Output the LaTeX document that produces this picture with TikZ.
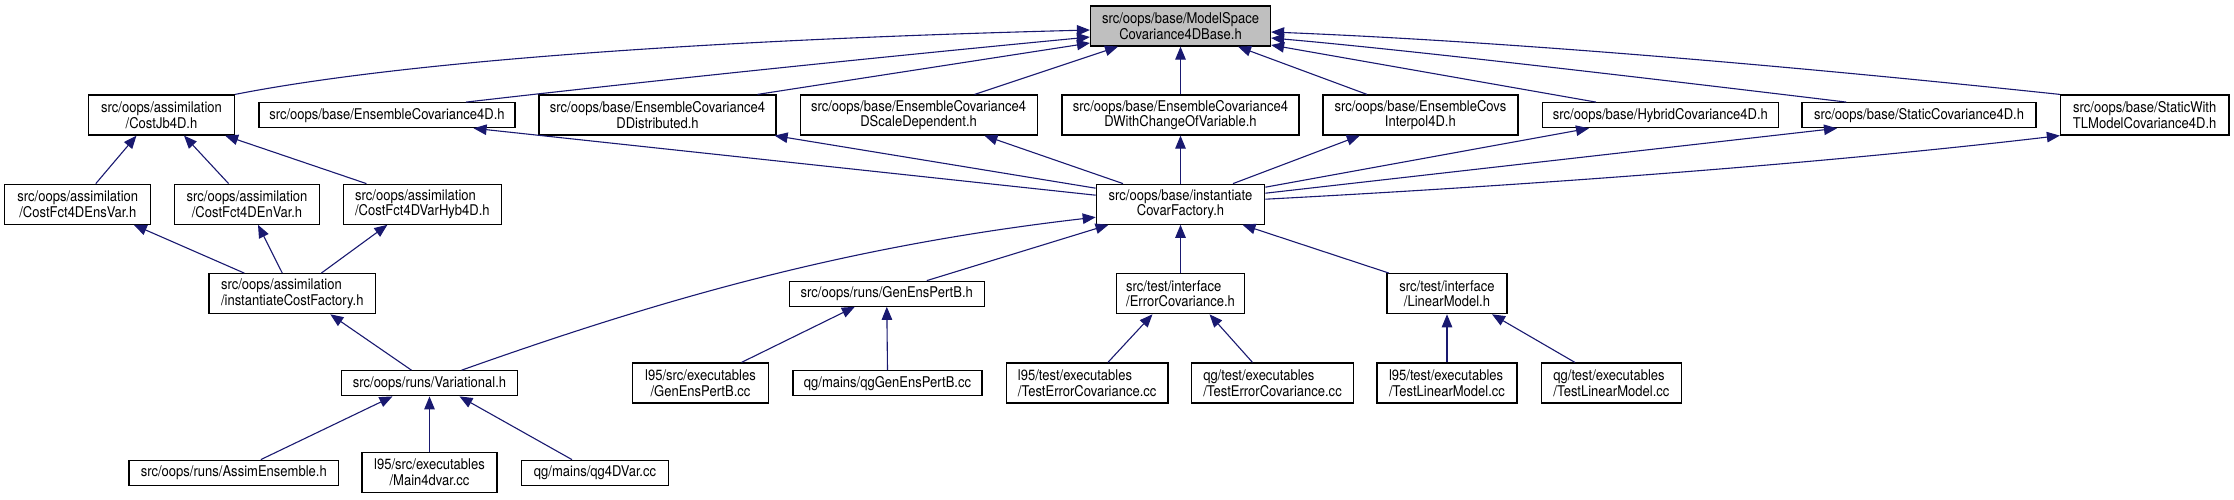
\documentclass[tikz,border=0pt]{standalone}
\usepackage{fontspec}
\setmainfont{TeX Gyre Heros}[FakeStretch=0.88]
\usepackage{xcolor}
\definecolor{colEdge}{HTML}{191970}
\definecolor{colRoot}{HTML}{BFBFBF}
\usepackage{tikz}
\usetikzlibrary{arrows.meta}

\begin{document}
\begin{tikzpicture}[x=1pt, y=-1pt,
    filebox/.style={draw=black, line width=1.2pt, fill=white, inner sep=0pt,
      align=center, font=\fontsize{14.8}{15.6}\selectfont},
    onel/.style={minimum height=25},
    twol/.style={minimum height=40},
    edge/.style={colEdge, line width=1.1pt, -{Triangle[length=13pt, width=10.5pt]}}]
    \useasboundingbox (0,0) rectangle (2234,499);

    % === Root header ===
    \node[filebox, twol, fill=colRoot, minimum width=180] (ms) at (1180.5,26) {src/oops/base/ModelSpace\\Covariance4DBase.h};

    % === Row 2: direct includers ===
    \node[filebox, twol, minimum width=146]   (jb)     at (161.5,115)  {src/oops/assimilation\\/CostJb4D.h};
    \node[filebox, onel, minimum width=256]   (ens)    at (387,115.2)  {src/oops/base/EnsembleCovariance4D.h};
    \node[filebox, twol, minimum width=237]   (dist)   at (657.5,115)  {src/oops/base/EnsembleCovariance4\\DDistributed.h};
    \node[filebox, twol, minimum width=237]   (scale)  at (918.6,115)  {src/oops/base/EnsembleCovariance4\\DScaleDependent.h};
    \node[filebox, twol, minimum width=237]   (chg)    at (1180.5,115) {src/oops/base/EnsembleCovariance4\\DWithChangeOfVariable.h};
    \node[filebox, twol, minimum width=195]   (interp) at (1420.4,115) {src/oops/base/EnsembleCovs\\Interpol4D.h};
    \node[filebox, onel, minimum width=236.5] (hyb)    at (1660.4,115.2) {src/oops/base/HybridCovariance4D.h};
    \node[filebox, onel, minimum width=234]   (stat)   at (1919,115.2) {src/oops/base/StaticCovariance4D.h};
    \node[filebox, twol, minimum width=168.5] (stl)    at (2144.7,115) {src/oops/base/StaticWith\\TLModelCovariance4D.h};

    % === Row 3 ===
    \node[filebox, twol, minimum width=146]   (ensvar) at (77.8,204.2)  {src/oops/assimilation\\/CostFct4DEnsVar.h};
    \node[filebox, twol, minimum width=145]   (envar)  at (247,204.2)   {src/oops/assimilation\\/CostFct4DEnVar.h};
    \node[filebox, twol, minimum width=158, align=left] (hyb4d) at (422.4,204.2) {src/oops/assimilation\\/CostFct4DVarHyb4D.h};
    \node[filebox, twol, minimum width=168.4] (cf)     at (1180.5,204.2) {src/oops/base/instantiate\\CovarFactory.h};

    % === Row 4 ===
    \node[filebox, twol, minimum width=166.5, align=left] (costfac) at (292.3,293.7) {src/oops/assimilation\\/instantiateCostFactory.h};
    \node[filebox, onel, minimum width=195]   (genb)   at (886.8,293.7) {src/oops/runs/GenEnsPertB.h};
    \node[filebox, twol, minimum width=128, align=left] (errcov) at (1180.5,293.7) {src/test/interface\\/ErrorCovariance.h};
    \node[filebox, twol, minimum width=120]   (linmod) at (1447,293.7)  {src/test/interface\\/LinearModel.h};

    % === Row 5 ===
    \node[filebox, onel, minimum width=176]   (var)     at (429.5,383.3) {src/oops/runs/Variational.h};
    \node[filebox, twol, minimum width=135.4] (l95genb) at (700.5,383)   {l95/src/executables\\/GenEnsPertB.cc};
    \node[filebox, onel, minimum width=189]   (qggenb)  at (887.5,383.3) {qg/mains/qgGenEnsPertB.cc};
    \node[filebox, twol, minimum width=161.6, align=left] (l95terr) at (1087.2,383) {l95/test/executables\\/TestErrorCovariance.cc};
    \node[filebox, twol, minimum width=162, align=left]   (qgterr)  at (1272.5,383) {qg/test/executables\\/TestErrorCovariance.cc};
    \node[filebox, twol, minimum width=140, align=left]   (l95tlin) at (1447,383)   {l95/test/executables\\/TestLinearModel.cc};
    \node[filebox, twol, minimum width=140, align=left]   (qgtlin)  at (1611.4,383) {qg/test/executables\\/TestLinearModel.cc};

    % === Row 6 ===
    \node[filebox, onel, minimum width=209.5] (assim) at (233.8,472.7) {src/oops/runs/AssimEnsemble.h};
    \node[filebox, twol, minimum width=135]   (main4) at (429.5,472.5) {l95/src/executables\\/Main4dvar.cc};
    \node[filebox, onel, minimum width=147.3] (qg4d)  at (595,472.7)   {qg/mains/qg4DVar.cc};

    % Archi verso la radice
    \draw[edge] (jb.north east) .. controls (400,62) and (700,40) .. ([yshift=-4pt]ms.west);
    \draw[edge] ([xshift=79pt]ens.north) .. controls (666,79) and (891,56) .. ([yshift=-11pt]ms.west);
    \draw[edge] ([xshift=100pt]dist.north) -- ([yshift=-17pt]ms.west);
    \draw[edge] ([xshift=56pt]scale.north) -- ([xshift=-62.5pt]ms.south);
    \draw[edge] (chg.north) -- (ms.south);
    \draw[edge] ([xshift=-53.4pt]interp.north) -- ([xshift=57.5pt]ms.south);
    \draw[edge] ([xshift=-64.4pt]hyb.north) -- ([yshift=-19pt]ms.east);
    \draw[edge] ([xshift=-72.6pt]stat.north) .. controls (1696,84) and (1420,51) .. ([yshift=-12pt]ms.east);
    \draw[edge] (stl.north west) .. controls (1810,68) and (1520,42) .. ([yshift=-6pt]ms.east);

    % Archi da CovarFactory
    \draw[edge] ([yshift=9pt]cf.west) -- ([xshift=86.6pt]ens.south);
    \draw[edge] ([yshift=16pt]cf.west) -- ([xshift=-2pt]dist.south east);
    \draw[edge] ([xshift=-57.5pt]cf.north) -- ([xshift=65.8pt]scale.south);
    \draw[edge] (cf.north) -- (chg.south);
    \draw[edge] ([xshift=52.5pt]cf.north) -- ([xshift=-60.6pt]interp.south);
    \draw[edge] ([yshift=17pt]cf.east) -- ([xshift=-71.4pt]hyb.south);
    \draw[edge] ([yshift=11pt]cf.east) -- ([xshift=-82pt]stat.south);
    \draw[edge] ([yshift=5pt]cf.east) .. controls (1515,186) and (1810,165) .. (stl.south west);

    % Archi verso CovarFactory
    \draw[edge] ([xshift=32pt]var.north) .. controls (662,299) and (846,246) .. ([yshift=-13pt]cf.west);
    \draw[edge] ([xshift=40pt]genb.north) -- ([xshift=-72pt]cf.south);
    \draw[edge] (errcov.north) -- (cf.south);
    \draw[edge] ([xshift=-58pt]linmod.north) -- ([xshift=62pt]cf.south);

    % Funzioni di costo
    \draw[edge] ([xshift=18pt]ensvar.north) -- ([xshift=-25pt]jb.south);
    \draw[edge] ([xshift=-18.4pt]envar.north) -- ([xshift=22.5pt]jb.south);
    \draw[edge] ([xshift=-56pt]hyb4d.north) -- ([xshift=-10pt]jb.south east);
    \draw[edge] ([xshift=-48pt]costfac.north) -- ([xshift=56pt]ensvar.south);
    \draw[edge] ([xshift=-10pt]costfac.north) -- ([xshift=11pt]envar.south);
    \draw[edge] ([xshift=29pt]costfac.north) -- ([xshift=-35pt]hyb4d.south);
    \draw[edge] ([xshift=-18pt]var.north) -- ([xshift=38pt]costfac.south);

    % Eseguibili
    \draw[edge] ([xshift=27pt]assim.north) -- ([xshift=-37pt]var.south);
    \draw[edge] (main4.north) -- (var.south);
    \draw[edge] ([xshift=-23pt]qg4d.north) -- ([xshift=30pt]var.south);
    \draw[edge] ([xshift=41pt]l95genb.north) -- ([xshift=-32pt]genb.south);
    \draw[edge] (qggenb.north) -- (genb.south);
    \draw[edge] ([xshift=20.7pt]l95terr.north) -- ([xshift=-28pt]errcov.south);
    \draw[edge] ([xshift=-20pt]qgterr.north) -- ([xshift=29pt]errcov.south);
    \draw[edge] (l95tlin.north) -- (linmod.south);
    \draw[edge] ([xshift=-36.5pt]qgtlin.north) -- ([xshift=45pt]linmod.south);
\end{tikzpicture}
\end{document}
